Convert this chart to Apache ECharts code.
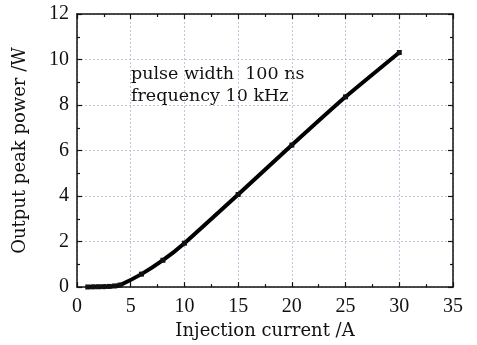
<!DOCTYPE html>
<html><head><meta charset="utf-8">
<script src="https://cdn.jsdelivr.net/npm/echarts@6/dist/echarts.min.js"></script>
<style>html,body{margin:0;padding:0;background:#fff}#c{width:477px;height:345px}</style>
</head><body><div id="c"></div>
<script>
const current = [1, 1.5, 2, 2.5, 3, 3.5, 4, 6, 8, 10, 15, 20, 25, 30];
const power = [0.005, 0.01, 0.015, 0.02, 0.03, 0.05, 0.09, 0.57, 1.18, 1.93, 4.07, 6.24, 8.36, 10.31];
const xTitle = 'Injection current /A';
const yTitle = 'Output peak power /W';
const noteLines = ['pulse width  100 ns', 'frequency 10 kHz'];

const font = '"Liberation Serif", serif';
const wide = '"DejaVu Serif", serif';
const chart = echarts.init(document.getElementById('c'));
const axisCommon = {
  axisLine: {show: true, onZero: false, lineStyle: {color: '#111', width: 1.5}},
  axisTick: {show: true, inside: true, length: 5, lineStyle: {color: '#111', width: 1.2}},
  minorTick: {show: true, splitNumber: 2, length: 3, lineStyle: {color: '#111', width: 1.2}},
};
chart.setOption({
  animation: false,
  grid: {left: 77, right: 24, top: 14, bottom: 54},
  xAxis: [
    Object.assign({type: 'value', min: 0, max: 35, interval: 5, position: 'bottom',
      name: xTitle, nameLocation: 'middle', nameGap: 32,
      nameTextStyle: {fontFamily: wide, fontSize: 18, color: '#111'},
      axisLabel: {fontFamily: font, fontSize: 20, color: '#111', margin: 10},
      splitLine: {show: true, lineStyle: {color: '#c4c4dc', type: [2, 2], width: 1}}}, axisCommon),
    Object.assign({type: 'value', min: 0, max: 35, interval: 5, position: 'top',
      axisLabel: {show: false}, splitLine: {show: false}}, axisCommon)
  ],
  yAxis: [
    Object.assign({type: 'value', min: 0, max: 12, interval: 2, position: 'left',
      name: yTitle, nameLocation: 'middle', nameGap: 48,
      nameTextStyle: {fontFamily: wide, fontSize: 18, color: '#111'},
      axisLabel: {fontFamily: font, fontSize: 20, color: '#111', margin: 8},
      splitLine: {show: true, lineStyle: {color: '#c4c4dc', type: [2, 2], width: 1}}}, axisCommon),
    Object.assign({type: 'value', min: 0, max: 12, interval: 2, position: 'right',
      axisLabel: {show: false}, splitLine: {show: false}}, axisCommon)
  ],
  graphic: [{
    type: 'text', left: 131, top: 63,
    style: {text: noteLines.join('\n'), font: '17.5px ' + wide, fill: '#111', lineHeight: 22}
  }],
  series: [{
    type: 'line',
    data: current.map((c, i) => [c, power[i]]),
    symbol: 'rect', symbolSize: 5,
    itemStyle: {color: '#111'},
    lineStyle: {color: '#000', width: 4},
    smooth: 0.15
  }]
});
</script></body></html>
